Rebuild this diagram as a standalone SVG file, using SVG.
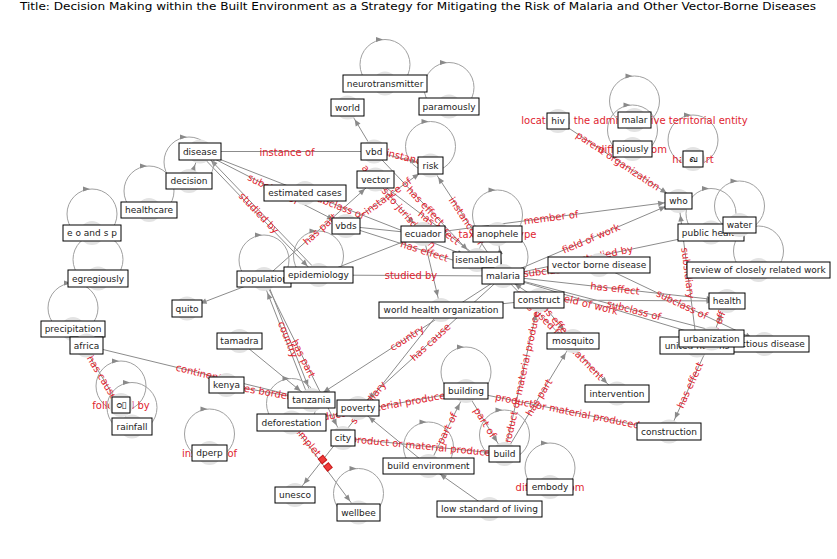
<svg xmlns="http://www.w3.org/2000/svg" width="837" height="559" viewBox="0 0 837 559">
<defs>
<marker id="a" markerUnits="userSpaceOnUse" markerWidth="24" markerHeight="8" viewBox="0 0 24 8" refX="24" refY="4" orient="auto"><path d="M3.5,1.2 L10,4 L3.5,6.8 z" fill="#8a8a8a"/></marker>
<path id="la" d="M-7,-2.6 L0,0 L-7,2.6 z"/>
<style>
.e{fill:none;stroke:#8c8c8c;stroke-width:1;marker-end:url(#a)}
.lp{fill:none;stroke:#a0a0a0;stroke-width:1}
.ah{fill:#8a8a8a}
.el{font-family:"DejaVu Sans",sans-serif;font-size:10px;fill:#e0242f;text-anchor:middle;dominant-baseline:central}
.mk{fill:#e3e3e3}
.bx{fill:#fff;stroke:#000;stroke-width:1}
.nl{font-family:"DejaVu Sans","Noto Sans",sans-serif;font-size:9px;fill:#222;text-anchor:middle;dominant-baseline:central}
.tt{font-family:"DejaVu Sans",sans-serif;font-size:10.5px;fill:#000;text-anchor:middle}
.sq{fill:#ee3a3a;stroke:#c81818;stroke-width:1}
</style>
</defs>
<rect width="837" height="559" fill="#fff"/>
<text class="tt" x="418" y="10" textLength="796" lengthAdjust="spacingAndGlyphs">Title: Decision Making within the Built Environment as a Strategy for Mitigating the Risk of Malaria and Other Vector-Borne Diseases</text>

<g id="connectors">
<path class="e" d="M374,151.5 L200,151.5"/>
<path class="e" d="M374,151.5 L347.5,107.5"/>
<path class="e" d="M374,151.5 L430.5,165.5"/>
<path class="e" d="M264,279 L375.5,179.5"/>
<path class="e" d="M200,151.5 L346,226"/>
<path class="e" d="M200,151.5 L477,260"/>
<path class="e" d="M198.7,152.75 L317.2,276.25"/>
<path class="e" d="M319.8,273.75 L201.3,150.25"/>
<path class="e" d="M189,181 L200,151.5"/>
<path class="e" d="M346,226 L430.5,165.5"/>
<path class="e" d="M375.5,179.5 L423,234"/>
<path class="e" d="M374,151.5 L477,260"/>
<path class="e" d="M375.5,179.5 L503,276"/>
<path class="e" d="M503,276 L430.5,165.5"/>
<path class="e" d="M423,234 L678.5,201"/>
<path class="e" d="M503,276 L678.5,201"/>
<path class="e" d="M503,276 L711,232.5"/>
<path class="e" d="M318.5,275 L503,276"/>
<path class="e" d="M503,276 L599,265"/>
<path class="e" d="M503,276 L727,301"/>
<path class="e" d="M503,276 L764.5,344"/>
<path class="e" d="M503,276 L711.5,338.5"/>
<path class="e" d="M697,345.5 L678.5,201"/>
<path class="e" d="M599,265 L764.5,344"/>
<path class="e" d="M711.5,338.5 L669,431.5"/>
<path class="e" d="M711.5,338.5 L727,301"/>
<path class="e" d="M558,121 L678.5,201"/>
<path class="e" d="M503,276 L617,393.5"/>
<path class="e" d="M539,300 L573,341"/>
<path class="e" d="M504.5,454 L573,341"/>
<path class="e" d="M504.5,454 L539,300"/>
<path class="e" d="M343,438 L504.5,454"/>
<path class="e" d="M466,391 L669,431.5"/>
<path class="e" d="M291.5,422.5 L466,391"/>
<path class="e" d="M466,391 L504.5,454"/>
<path class="e" d="M428.5,466 L466,391"/>
<path class="e" d="M428.5,466 L358,408"/>
<path class="e" d="M489.5,509 L428.5,466"/>
<path class="e" d="M503,276 L311.5,400"/>
<path class="e" d="M503,276 L358,408"/>
<path class="e" d="M441,310 L295,495"/>
<path class="e" d="M309.8,400.66 L262.3,279.66"/>
<path class="e" d="M265.7,278.34 L313.2,399.34"/>
<path class="e" d="M264,279 L343,438"/>
<path class="e" d="M86.5,345.5 L311.5,400"/>
<path class="e" d="M226.5,385 L311.5,400"/>
<path class="e" d="M239.5,341 L311.5,400"/>
<path class="e" d="M264,279 L187,308.5"/>
<path class="e" d="M291.5,422.5 L358.5,512.5"/>
<path class="e" d="M73,329 L132,426.5"/>
<path class="e" d="M318.5,275 L423,234"/>
<path class="e" d="M423,234 L441,310"/>
<path class="e" d="M441,310 L539,300"/>
<path class="e" d="M346,226 L503,276"/>
<path class="e" d="M346,226 L423,234"/>
<path class="e" d="M503,276 L497.5,234"/>
<path class="e" d="M539,300 L503,276"/>
<path class="e" d="M539,300 L727,301"/>
<g id="loops">
<circle class="lp" cx="385" cy="64.5" r="25"/><use href="#la" class="ah" x="383" y="39.5"/>
<circle class="lp" cx="449" cy="87.5" r="25"/><use href="#la" class="ah" x="447" y="62.5"/>
<circle class="lp" cx="430.5" cy="146.5" r="25"/><use href="#la" class="ah" x="428.5" y="121.5"/>
<circle class="lp" cx="634.5" cy="101" r="25"/><use href="#la" class="ah" x="632.5" y="76"/>
<circle class="lp" cx="632.5" cy="130" r="25"/><use href="#la" class="ah" x="630.5" y="105"/>
<circle class="lp" cx="693" cy="140" r="25"/><use href="#la" class="ah" x="691" y="115"/>
<circle class="lp" cx="189" cy="162" r="25"/><use href="#la" class="ah" x="187" y="137"/>
<circle class="lp" cx="149" cy="191" r="25"/><use href="#la" class="ah" x="147" y="166"/>
<circle class="lp" cx="92" cy="214" r="25"/><use href="#la" class="ah" x="90" y="189"/>
<circle class="lp" cx="98" cy="259.5" r="25"/><use href="#la" class="ah" x="96" y="234.5"/>
<circle class="lp" cx="73" cy="308" r="25"/><use href="#la" class="ah" x="71" y="283"/>
<circle class="lp" cx="121" cy="386" r="25"/><use href="#la" class="ah" x="119" y="361"/>
<circle class="lp" cx="132" cy="407.5" r="25"/><use href="#la" class="ah" x="130" y="382.5"/>
<circle class="lp" cx="209.5" cy="434" r="25"/><use href="#la" class="ah" x="207.5" y="409"/>
<circle class="lp" cx="264" cy="260" r="25"/><use href="#la" class="ah" x="262" y="235"/>
<circle class="lp" cx="318.5" cy="256" r="25"/><use href="#la" class="ah" x="316.5" y="231"/>
<circle class="lp" cx="497.5" cy="215" r="25"/><use href="#la" class="ah" x="495.5" y="190"/>
<circle class="lp" cx="503" cy="257" r="25"/><use href="#la" class="ah" x="501" y="232"/>
<circle class="lp" cx="711" cy="213.5" r="25"/><use href="#la" class="ah" x="709" y="188.5"/>
<circle class="lp" cx="739.5" cy="206" r="25"/><use href="#la" class="ah" x="737.5" y="181"/>
<circle class="lp" cx="758.5" cy="251" r="25"/><use href="#la" class="ah" x="756.5" y="226"/>
<circle class="lp" cx="291.5" cy="403.5" r="25"/><use href="#la" class="ah" x="289.5" y="378.5"/>
<circle class="lp" cx="466" cy="372" r="25"/><use href="#la" class="ah" x="464" y="347"/>
<circle class="lp" cx="504.5" cy="435" r="25"/><use href="#la" class="ah" x="502.5" y="410"/>
<circle class="lp" cx="428.5" cy="447" r="25"/><use href="#la" class="ah" x="426.5" y="422"/>
<circle class="lp" cx="358.5" cy="493.5" r="25"/><use href="#la" class="ah" x="356.5" y="468.5"/>
<circle class="lp" cx="550" cy="468" r="25"/><use href="#la" class="ah" x="548" y="443"/>
</g>
</g>

<g id="edge-labels">
<text class="el" transform="translate(287,152)">instance of</text>
<text class="el" transform="translate(413,159) rotate(14)">instance of</text>
<text class="el" transform="translate(320,229) rotate(-41.9)">has part</text>
<text class="el" transform="translate(273,189) rotate(27)">subclass of</text>
<text class="el" transform="translate(338.5,206) rotate(21.4)">subclass of</text>
<text class="el" transform="translate(259,213) rotate(46.2)">studied by</text>
<text class="el" transform="translate(388,196) rotate(-35.8)">instance of</text>
<text class="el" transform="translate(399,206.5) rotate(49.2)">applies to jurisdiction</text>
<text class="el" transform="translate(425.5,206) rotate(46.4)">has effect</text>
<text class="el" transform="translate(439,227.5) rotate(37.3)">has effect</text>
<text class="el" transform="translate(466.5,221) rotate(56.5)">instance of</text>
<text class="el" transform="translate(551,217.5) rotate(-7.4)">member of</text>
<text class="el" transform="translate(591,238.5) rotate(-23.1)">field of work</text>
<text class="el" transform="translate(607,254) rotate(-11.8)">studied by</text>
<text class="el" transform="translate(411,275.5)">studied by</text>
<text class="el" transform="translate(551,270.5) rotate(-6.5)">subclass of</text>
<text class="el" transform="translate(615,288.5) rotate(6.4)">has effect</text>
<text class="el" transform="translate(634,310) rotate(14.6)">subclass of</text>
<text class="el" transform="translate(588,304) rotate(14)">field of work</text>
<text class="el" transform="translate(688,273) rotate(82.7)">subsidiary</text>
<text class="el" transform="translate(682,304.5) rotate(25.5)">subclass of</text>
<text class="el" transform="translate(690,385) rotate(-65.4)">has effect</text>
<text class="el" transform="translate(719,320) rotate(-67.5)">has effect</text>
<text class="el" transform="translate(618,161) rotate(33.6)">parent organization</text>
<text class="el" transform="translate(560,335) rotate(45.9)">drug used for treatment</text>
<text class="el" transform="translate(556,320.5) rotate(50.3)">has effect</text>
<text class="el" transform="translate(539,397.5) rotate(-58.8)">has part</text>
<text class="el" transform="translate(522,377) rotate(-77.4)">product or material produced</text>
<text class="el" transform="translate(424,446) rotate(5.6)">product or material produced</text>
<text class="el" transform="translate(567.5,411) rotate(11.3)">product or material produced</text>
<text class="el" transform="translate(379,407) rotate(-10.2)">product or material produced</text>
<text class="el" transform="translate(485,422.5) rotate(58.5)">part of</text>
<text class="el" transform="translate(447,428.5) rotate(-63.4)">part of</text>
<text class="el" transform="translate(407,338) rotate(-32.9)">country</text>
<text class="el" transform="translate(430.5,342) rotate(-42.3)">has cause</text>
<text class="el" transform="translate(368,402.5) rotate(-51.7)">subsidiary</text>
<text class="el" transform="translate(288,339.5) rotate(68.6)">country</text>
<text class="el" transform="translate(303.5,358.5) rotate(63.6)">has part</text>
<text class="el" transform="translate(199,372.75) rotate(13.6)">continent</text>
<text class="el" transform="translate(269,392.5) rotate(10)">shares border with</text>
<text class="el" transform="translate(319,455) rotate(50.5)" style="text-anchor:end">complet</text>
<rect class="sq" x="-3" y="-3" width="6" height="6" transform="translate(322.5,459.5) rotate(50)"/>
<rect class="sq" x="-3" y="-3" width="6" height="6" transform="translate(328,467) rotate(50)"/>
<text class="el" transform="translate(102.5,377.75) rotate(58.8)">has cause</text>
<text class="el" transform="translate(424.5,251) rotate(17.7)">has effect</text>
<text class="el" x="634.5" y="120">located in the administrative territorial entity</text>
<text class="el" x="632.5" y="149">different from</text>
<text class="el" x="693" y="159">has part</text>
<text class="el" x="121" y="405">followed by</text>
<text class="el" x="209.5" y="453">instance of</text>
<text class="el" x="550" y="487">different from</text>
<text class="el" x="497.5" y="234">taxonomic type</text>
</g>

<g id="n-neurotransmitter"><circle class="mk" cx="385" cy="83.5" r="12"/><rect class="bx" x="343" y="75" width="84" height="17"/><text class="nl" x="385" y="83.5">neurotransmitter</text></g>
<g id="n-world"><circle class="mk" cx="347.5" cy="107.5" r="12"/><rect class="bx" x="331" y="99" width="33" height="17"/><text class="nl" x="347.5" y="107.5">world</text></g>
<g id="n-paramously"><circle class="mk" cx="449" cy="106.5" r="12"/><rect class="bx" x="419" y="98" width="60" height="17"/><text class="nl" x="449" y="106.5">paramously</text></g>
<g id="n-vbd"><circle class="mk" cx="374" cy="151.5" r="12"/><rect class="bx" x="361" y="143" width="26" height="17"/><text class="nl" x="374" y="151.5">vbd</text></g>
<g id="n-risk"><circle class="mk" cx="430.5" cy="165.5" r="12"/><rect class="bx" x="418" y="157" width="25" height="17"/><text class="nl" x="430.5" y="165.5">risk</text></g>
<g id="n-vector"><circle class="mk" cx="375.5" cy="179.5" r="12"/><rect class="bx" x="357" y="171" width="37" height="17"/><text class="nl" x="375.5" y="179.5">vector</text></g>
<g id="n-hiv"><circle class="mk" cx="558" cy="121" r="12"/><rect class="bx" x="547" y="113" width="22" height="16"/><text class="nl" x="558" y="121">hiv</text></g>
<g id="n-malar"><circle class="mk" cx="634.5" cy="120" r="12"/><rect class="bx" x="618" y="112" width="33" height="16"/><text class="nl" x="634.5" y="120">malar</text></g>
<g id="n-piously"><circle class="mk" cx="632.5" cy="149" r="12"/><rect class="bx" x="613" y="141" width="39" height="16"/><text class="nl" x="632.5" y="149">piously</text></g>
<g id="n-kha"><circle class="mk" cx="693" cy="159" r="12"/><rect class="bx" x="683" y="151" width="20" height="16"/><text class="nl" x="693" y="159">ഖ</text></g>
<g id="n-disease"><circle class="mk" cx="200" cy="151.5" r="12"/><rect class="bx" x="179" y="143" width="42" height="17"/><text class="nl" x="200" y="151.5">disease</text></g>
<g id="n-decision"><circle class="mk" cx="189" cy="181" r="12"/><rect class="bx" x="166" y="173" width="46" height="16"/><text class="nl" x="189" y="181">decision</text></g>
<g id="n-healthcare"><circle class="mk" cx="149" cy="210" r="12"/><rect class="bx" x="121" y="202" width="56" height="16"/><text class="nl" x="149" y="210">healthcare</text></g>
<g id="n-eosp"><circle class="mk" cx="92" cy="233" r="12"/><rect class="bx" x="63" y="225" width="58" height="16"/><text class="nl" x="92" y="233">e o and s p</text></g>
<g id="n-egregiously"><circle class="mk" cx="98" cy="278.5" r="12"/><rect class="bx" x="68" y="270" width="60" height="17"/><text class="nl" x="98" y="278.5">egregiously</text></g>
<g id="n-precipitation"><circle class="mk" cx="73" cy="329" r="12"/><rect class="bx" x="41" y="321" width="64" height="16"/><text class="nl" x="73" y="329">precipitation</text></g>
<g id="n-africa"><circle class="mk" cx="86.5" cy="345.5" r="12"/><rect class="bx" x="70" y="337" width="33" height="17"/><text class="nl" x="86.5" y="345.5">africa</text></g>
<g id="n-quito"><circle class="mk" cx="187" cy="308.5" r="12"/><rect class="bx" x="172" y="300" width="30" height="17"/><text class="nl" x="187" y="308.5">quito</text></g>
<g id="n-tamadra"><circle class="mk" cx="239.5" cy="341" r="12"/><rect class="bx" x="217" y="333" width="45" height="16"/><text class="nl" x="239.5" y="341">tamadra</text></g>
<g id="n-population"><circle class="mk" cx="264" cy="279" r="12"/><rect class="bx" x="237" y="271" width="54" height="16"/><text class="nl" x="264" y="279">population</text></g>
<g id="n-epidemiology"><circle class="mk" cx="318.5" cy="275" r="12"/><rect class="bx" x="284" y="267" width="69" height="16"/><text class="nl" x="318.5" y="275">epidemiology</text></g>
<g id="n-estimated-cases"><circle class="mk" cx="305" cy="193" r="12"/><rect class="bx" x="264" y="185" width="82" height="16"/><text class="nl" x="305" y="193">estimated cases</text></g>
<g id="n-vbds"><circle class="mk" cx="346" cy="226" r="12"/><rect class="bx" x="332" y="218" width="28" height="16"/><text class="nl" x="346" y="226">vbds</text></g>
<g id="n-ecuador"><circle class="mk" cx="423" cy="234" r="12"/><rect class="bx" x="401" y="226" width="44" height="16"/><text class="nl" x="423" y="234">ecuador</text></g>
<g id="n-anophele"><circle class="mk" cx="497.5" cy="234" r="12"/><rect class="bx" x="473" y="226" width="49" height="16"/><text class="nl" x="497.5" y="234">anophele</text></g>
<g id="n-isenabled"><circle class="mk" cx="477" cy="260" r="12"/><rect class="bx" x="453" y="252" width="48" height="16"/><text class="nl" x="477" y="260">isenabled</text></g>
<g id="n-malaria"><circle class="mk" cx="503" cy="276" r="12"/><rect class="bx" x="482" y="268" width="42" height="16"/><text class="nl" x="503" y="276">malaria</text></g>
<g id="n-vector-borne-disease"><circle class="mk" cx="599" cy="265" r="12"/><rect class="bx" x="548" y="257" width="102" height="16"/><text class="nl" x="599" y="265">vector borne disease</text></g>
<g id="n-construct"><circle class="mk" cx="539" cy="300" r="12"/><rect class="bx" x="514" y="292" width="50" height="16"/><text class="nl" x="539" y="300">construct</text></g>
<g id="n-who-org"><circle class="mk" cx="441" cy="310" r="12"/><rect class="bx" x="379" y="302" width="124" height="16"/><text class="nl" x="441" y="310">world health organization</text></g>
<g id="n-mosquito"><circle class="mk" cx="573" cy="341" r="12"/><rect class="bx" x="547" y="333" width="52" height="16"/><text class="nl" x="573" y="341">mosquito</text></g>
<g id="n-who"><circle class="mk" cx="678.5" cy="201" r="12"/><rect class="bx" x="665" y="193" width="27" height="16"/><text class="nl" x="678.5" y="201">who</text></g>
<g id="n-public-health"><circle class="mk" cx="711" cy="232.5" r="12"/><rect class="bx" x="678" y="224" width="66" height="17"/><text class="nl" x="711" y="232.5">public health</text></g>
<g id="n-water"><circle class="mk" cx="739.5" cy="225" r="12"/><rect class="bx" x="723" y="217" width="33" height="16"/><text class="nl" x="739.5" y="225">water</text></g>
<g id="n-review"><circle class="mk" cx="758.5" cy="270" r="12"/><rect class="bx" x="687" y="262" width="143" height="16"/><text class="nl" x="758.5" y="270">review of closely related work</text></g>
<g id="n-health"><circle class="mk" cx="727" cy="301" r="12"/><rect class="bx" x="709" y="293" width="36" height="16"/><text class="nl" x="727" y="301">health</text></g>
<g id="n-infectious-disease"><circle class="mk" cx="764.5" cy="344" r="12"/><rect class="bx" x="720" y="336" width="89" height="16"/><text class="nl" x="764.5" y="344">infectious disease</text></g>
<g id="n-united-nations"><circle class="mk" cx="697" cy="345.5" r="12"/><rect class="bx" x="660" y="337" width="74" height="17"/><text class="nl" x="697" y="345.5">united nations</text></g>
<g id="n-urbanization"><circle class="mk" cx="711.5" cy="338.5" r="12"/><rect class="bx" x="679" y="330" width="65" height="17"/><text class="nl" x="711.5" y="338.5">urbanization</text></g>
<g id="n-intervention"><circle class="mk" cx="617" cy="393.5" r="12"/><rect class="bx" x="585" y="385" width="64" height="17"/><text class="nl" x="617" y="393.5">intervention</text></g>
<g id="n-construction"><circle class="mk" cx="669" cy="431.5" r="12"/><rect class="bx" x="637" y="423" width="64" height="17"/><text class="nl" x="669" y="431.5">construction</text></g>
<g id="n-building"><circle class="mk" cx="466" cy="391" r="12"/><rect class="bx" x="444" y="383" width="44" height="16"/><text class="nl" x="466" y="391">building</text></g>
<g id="n-build"><circle class="mk" cx="504.5" cy="454" r="12"/><rect class="bx" x="489" y="446" width="31" height="16"/><text class="nl" x="504.5" y="454">build</text></g>
<g id="n-build-environment"><circle class="mk" cx="428.5" cy="466" r="12"/><rect class="bx" x="383" y="458" width="91" height="16"/><text class="nl" x="428.5" y="466">build environment</text></g>
<g id="n-low-standard"><circle class="mk" cx="489.5" cy="509" r="12"/><rect class="bx" x="437" y="501" width="105" height="16"/><text class="nl" x="489.5" y="509">low standard of living</text></g>
<g id="n-embody"><circle class="mk" cx="550" cy="487" r="12"/><rect class="bx" x="527" y="479" width="46" height="16"/><text class="nl" x="550" y="487">embody</text></g>
<g id="n-unesco"><circle class="mk" cx="295" cy="495" r="12"/><rect class="bx" x="275" y="487" width="40" height="16"/><text class="nl" x="295" y="495">unesco</text></g>
<g id="n-wellbee"><circle class="mk" cx="358.5" cy="512.5" r="12"/><rect class="bx" x="337" y="504" width="43" height="17"/><text class="nl" x="358.5" y="512.5">wellbee</text></g>
<g id="n-city"><circle class="mk" cx="343" cy="438" r="12"/><rect class="bx" x="331" y="430" width="24" height="16"/><text class="nl" x="343" y="438">city</text></g>
<g id="n-poverty"><circle class="mk" cx="358" cy="408" r="12"/><rect class="bx" x="337" y="400" width="42" height="16"/><text class="nl" x="358" y="408">poverty</text></g>
<g id="n-tanzania"><circle class="mk" cx="311.5" cy="400" r="12"/><rect class="bx" x="288" y="392" width="47" height="16"/><text class="nl" x="311.5" y="400">tanzania</text></g>
<g id="n-deforestation"><circle class="mk" cx="291.5" cy="422.5" r="12"/><rect class="bx" x="257" y="414" width="69" height="17"/><text class="nl" x="291.5" y="422.5">deforestation</text></g>
<g id="n-kenya"><circle class="mk" cx="226.5" cy="385" r="12"/><rect class="bx" x="209" y="377" width="35" height="16"/><text class="nl" x="226.5" y="385">kenya</text></g>
<g id="n-tta"><circle class="mk" cx="121" cy="405" r="12"/><rect class="bx" x="112" y="397" width="18" height="16"/><text class="nl" x="121" y="405">ഠ▯</text></g>
<g id="n-rainfall"><circle class="mk" cx="132" cy="426.5" r="12"/><rect class="bx" x="112" y="418" width="40" height="17"/><text class="nl" x="132" y="426.5">rainfall</text></g>
<g id="n-dperp"><circle class="mk" cx="209.5" cy="453" r="12"/><rect class="bx" x="192" y="445" width="35" height="16"/><text class="nl" x="209.5" y="453">dperp</text></g>
</svg>
